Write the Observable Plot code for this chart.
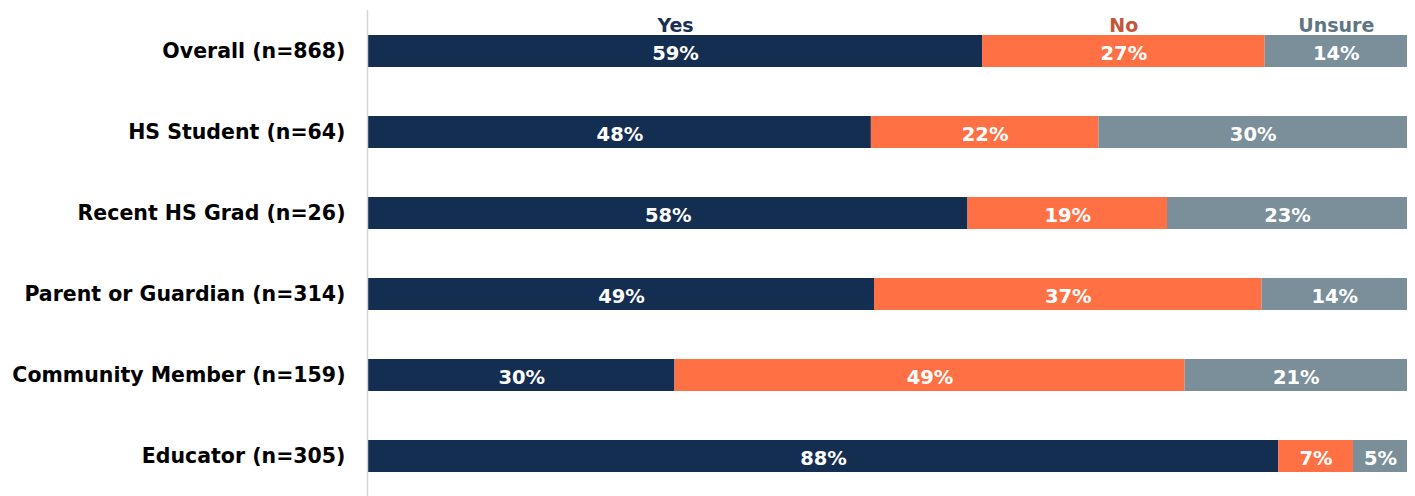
<!DOCTYPE html>
<html>
<head>
<meta charset="utf-8">
<script src="https://cdn.jsdelivr.net/npm/d3@7"></script>
<script src="https://cdn.jsdelivr.net/npm/@observablehq/plot@0.6"></script>
<style>
  body { margin: 0; background: #fff; }
  #chart svg g[aria-label="y-axis tick label"] text { font-size: 20.5px; font-weight: bold; fill: #000; }
</style>
</head>
<body>
<div id="chart"></div>
<script>
const categories = ["Overall (n=868)", "HS Student (n=64)", "Recent HS Grad (n=26)", "Parent or Guardian (n=314)", "Community Member (n=159)", "Educator (n=305)"];
const responses = ["Yes", "No", "Unsure"];
// bar lengths (percent)
const yesValues = [59.1, 48.4, 57.7, 48.7, 29.5, 87.6];
const noValues = [27.2, 21.9, 19.2, 37.3, 49.1, 7.2];
const unsureValues = [13.7, 29.7, 23.1, 14.0, 21.4, 5.2];
// printed labels
const yesLabels = ["59%", "48%", "58%", "49%", "30%", "88%"];
const noLabels = ["27%", "22%", "19%", "37%", "49%", "7%"];
const unsureLabels = ["14%", "30%", "23%", "14%", "21%", "5%"];
const barColors = ["#142e52", "#ff7144", "#7a8f9a"];
const headerColors = ["#1a2f52", "#c5563a", "#5f7583"];

const series = [yesValues, noValues, unsureValues];
const labels = [yesLabels, noLabels, unsureLabels];
const rows = [];
categories.forEach((c, i) => {
  responses.forEach((r, j) => rows.push({cat: c, resp: r, value: series[j][i], label: labels[j][i]}));
});
const topRow = rows.filter(d => d.cat === categories[0]);

const chart = Plot.plot({
  width: 1415,
  height: 496,
  marginLeft: 368,
  marginRight: 8,
  marginTop: 34,
  marginBottom: 23,
  style: {fontFamily: "DejaVu Sans", background: "#fff"},
  x: {domain: [0, 100], axis: null},
  y: {domain: categories, paddingInner: 0.6, paddingOuter: 0, label: null, tickSize: 0, tickPadding: 23},
  color: {domain: responses, range: barColors},
  marks: [
    Plot.barX(rows, {x: "value", y: "cat", fill: "resp", order: null}),
    Plot.text(rows, Plot.stackX({x: "value", y: "cat", z: "resp", order: null, text: "label", fill: "#fff", fontSize: 19.5, fontWeight: "bold", dy: 2})),
    Plot.text(topRow, Plot.stackX({x: "value", y: "cat", z: "resp", order: null, text: "resp", fill: d => headerColors[responses.indexOf(d.resp)], fontSize: 19, fontWeight: "bold", dy: -26})),
    Plot.ruleX([0], {stroke: "#d6d6d6", strokeWidth: 1.5, dx: -1, insetTop: -24, insetBottom: -23})
  ]
});
document.getElementById("chart").appendChild(chart);
</script>
</body>
</html>
